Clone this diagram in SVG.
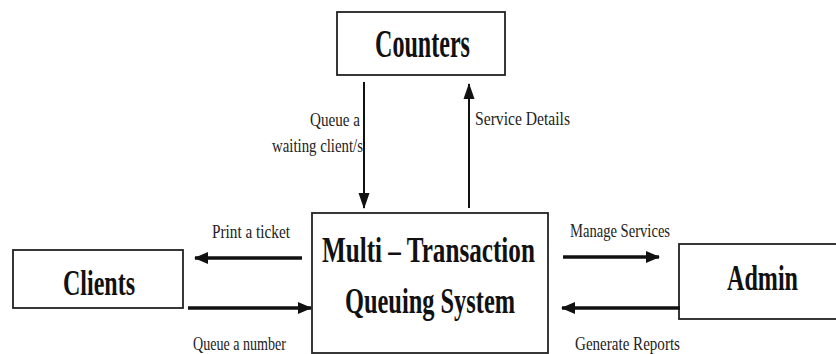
<svg xmlns="http://www.w3.org/2000/svg" width="836" height="354" viewBox="0 0 836 354">
<style>
.box{fill:#fff;stroke:#222;stroke-width:1.8}
.big{font-family:"Liberation Serif",serif;font-weight:bold;fill:#111}
.lbl{font-family:"Liberation Serif",serif;font-size:18px;fill:#222}
.thick{stroke:#111;stroke-width:3.5;fill:none}
.thin{stroke:#111;stroke-width:2;fill:none}
</style>
<defs>
<marker id="hh" markerUnits="userSpaceOnUse" markerWidth="14" markerHeight="14" viewBox="0 0 14 14" refX="13" refY="7" orient="auto">
<polygon points="0,1 14,7 0,13" fill="#111"/>
</marker>
<marker id="vh" markerUnits="userSpaceOnUse" markerWidth="16" markerHeight="12" viewBox="0 0 16 12" refX="15" refY="6" orient="auto">
<polygon points="0,0.5 16,6 0,11.5" fill="#111"/>
</marker>
</defs>
<rect width="836" height="354" fill="#fff"/>
<g id="counters">
<rect class="box" x="337" y="12" width="168" height="63"/>
<text class="big" transform="translate(375,57) scale(0.6,1)" font-size="40" textLength="158.3" lengthAdjust="spacingAndGlyphs">Counters</text>
</g>
<g id="system">
<rect class="box" x="312" y="213" width="236" height="140"/>
<text class="big" transform="translate(322,262) scale(0.712,1)" font-size="35" textLength="299" lengthAdjust="spacingAndGlyphs">Multi – Transaction</text>
<text class="big" transform="translate(345,313) scale(0.697,1)" font-size="35" textLength="244" lengthAdjust="spacingAndGlyphs">Queuing System</text>
</g>
<g id="clients">
<rect class="box" x="13" y="250" width="170" height="58"/>
<text class="big" transform="translate(63,295) scale(0.667,1)" font-size="36" textLength="108" lengthAdjust="spacingAndGlyphs">Clients</text>
</g>
<g id="admin">
<rect class="box" x="679" y="244" width="160" height="75"/>
<text class="big" transform="translate(727,290) scale(0.67,1)" font-size="36" textLength="106" lengthAdjust="spacingAndGlyphs">Admin</text>
</g>
<g id="connectors">
<line class="thin" x1="364" y1="82" x2="364" y2="208" marker-end="url(#vh)"/>
<line class="thin" x1="469" y1="208" x2="469" y2="84" marker-end="url(#vh)"/>
<line class="thick" x1="302" y1="258" x2="195" y2="258" marker-end="url(#hh)"/>
<line class="thick" x1="188" y1="308" x2="311" y2="308" marker-end="url(#hh)"/>
<line class="thick" x1="563" y1="257" x2="659" y2="257" marker-end="url(#hh)"/>
<line class="thick" x1="680" y1="308" x2="562" y2="308" marker-end="url(#hh)"/>
<text class="lbl" transform="translate(310,126) scale(0.85,1)" textLength="58.8" lengthAdjust="spacingAndGlyphs">Queue a</text>
<text class="lbl" transform="translate(272,152) scale(0.85,1)" textLength="107" lengthAdjust="spacingAndGlyphs">waiting client/s</text>
<text class="lbl" transform="translate(475,125) scale(0.85,1)" textLength="111.8" lengthAdjust="spacingAndGlyphs">Service Details</text>
<text class="lbl" transform="translate(212,238) scale(0.85,1)" textLength="91.8" lengthAdjust="spacingAndGlyphs">Print a ticket</text>
<text class="lbl" transform="translate(193,350) scale(0.85,1)" textLength="109.4" lengthAdjust="spacingAndGlyphs">Queue a number</text>
<text class="lbl" transform="translate(570,237) scale(0.82,1)" textLength="122" lengthAdjust="spacingAndGlyphs">Manage Services</text>
<text class="lbl" transform="translate(575,350) scale(0.85,1)" textLength="123.5" lengthAdjust="spacingAndGlyphs">Generate Reports</text>
</g>
</svg>
